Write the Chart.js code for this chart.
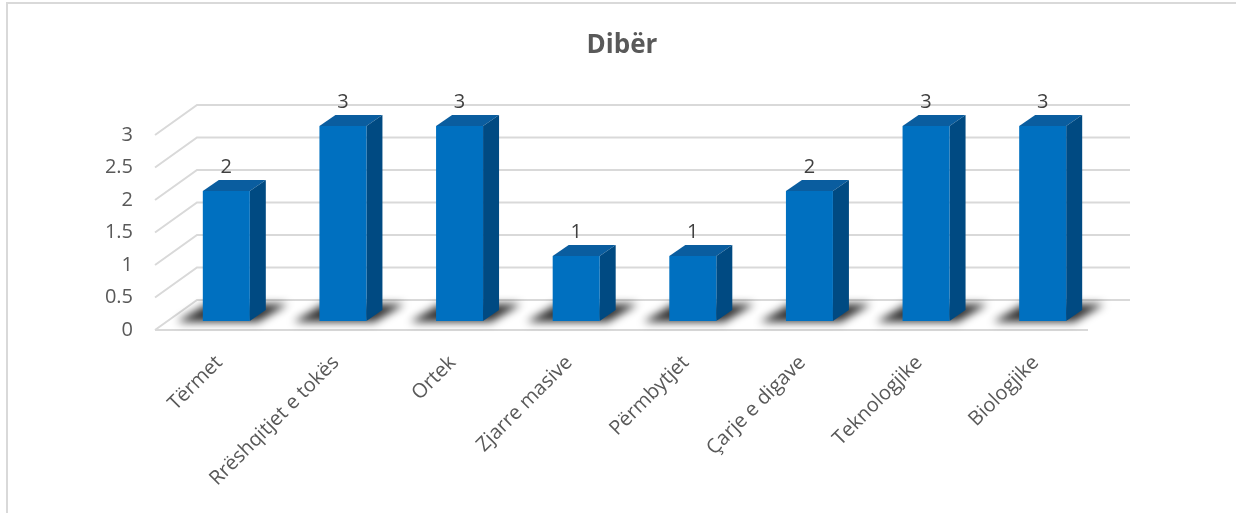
<!DOCTYPE html>
<html>
<head>
<meta charset="utf-8">
<script src="https://cdn.jsdelivr.net/npm/chart.js@4"></script>
<style>
    html, body { margin: 0; padding: 0; background: #fff; }
    #wrap { position: relative; width: 1236px; height: 513px; overflow: hidden; }
    #frame { position: absolute; left: 6px; top: 2px; width: 1300px; height: 600px; border: 2px solid #d9d9d9; box-sizing: border-box; }
    #chartBox { position: absolute; left: 0; top: 0; width: 1236px; height: 513px; }
</style>
</head>
<body>
<div id="wrap">
    <div id="frame"></div>
    <div id="chartBox"><canvas id="diberChart"></canvas></div>
</div>
<script>
const TITLE = "Dibër";
const categories = ["Tërmet", "Rrëshqitjet e tokës", "Ortek", "Zjarre masive", "Përmbytjet", "Çarje e digave", "Teknologjike", "Biologjike"];
const values = [2, 3, 3, 1, 1, 2, 3, 3];
const yTicks = [0, 0.5, 1, 1.5, 2, 2.5, 3];

// fake 3d offsets, relative to the bar front face plane
const FRONT = { dx: -13, dy: 9 };
const BACK = { dx: 29, dy: -21 };
const DEPTH = { dx: 16, dy: -11 };

const FONT = "'Open Sans', sans-serif";

const wallPlugin = {
    id: 'wall',
    beforeDatasetsDraw(chart) {
        const { ctx, chartArea: a, scales: { y } } = chart;
        ctx.save();
        ctx.strokeStyle = '#d9d9d9';
        ctx.lineWidth = 2;
        yTicks.forEach(v => {
            const py = y.getPixelForValue(v);
            ctx.beginPath();
            ctx.moveTo(a.left + FRONT.dx, py + FRONT.dy);
            ctx.lineTo(a.left + BACK.dx, py + BACK.dy);
            ctx.lineTo(a.right + BACK.dx, py + BACK.dy);
            ctx.stroke();
        });
        const p0 = y.getPixelForValue(0);
        ctx.beginPath();
        ctx.moveTo(a.left + FRONT.dx, p0 + FRONT.dy);
        ctx.lineTo(a.right + FRONT.dx, p0 + FRONT.dy);
        ctx.stroke();

        // soft shadows on the floor
        const meta = chart.getDatasetMeta(0);
        ctx.filter = 'blur(4px)';
        ctx.fillStyle = 'rgba(0,0,0,0.8)';
        meta.data.forEach(bar => {
            const { x, base, width } = bar.getProps(['x', 'base', 'width'], true);
            const l = x - width / 2 - 26, r = x + width / 2 + 8;
            ctx.beginPath();
            ctx.moveTo(l, base + 1);
            ctx.lineTo(r, base + 1);
            ctx.lineTo(r + 30, base - 17);
            ctx.lineTo(l + 30, base - 17);
            ctx.closePath();
            ctx.fill();
        });
        ctx.restore();
    },
    afterDatasetsDraw(chart) {
        const { ctx } = chart;
        const meta = chart.getDatasetMeta(0);
        ctx.save();
        meta.data.forEach((bar, i) => {
            const { x, y, base, width } = bar.getProps(['x', 'y', 'base', 'width'], true);
            const l = x - width / 2, r = x + width / 2;
            ctx.fillStyle = '#0a5d9f';
            ctx.beginPath();
            ctx.moveTo(l, y);
            ctx.lineTo(l + DEPTH.dx, y + DEPTH.dy);
            ctx.lineTo(r + DEPTH.dx, y + DEPTH.dy);
            ctx.lineTo(r, y);
            ctx.closePath();
            ctx.fill();
            ctx.fillStyle = '#004a82';
            ctx.beginPath();
            ctx.moveTo(r, y);
            ctx.lineTo(r + DEPTH.dx, y + DEPTH.dy);
            ctx.lineTo(r + DEPTH.dx, base + DEPTH.dy);
            ctx.lineTo(r, base);
            ctx.closePath();
            ctx.fill();
            ctx.fillStyle = '#0070c0';
            ctx.fillRect(l, y, width, base - y);

            ctx.fillStyle = '#404040';
            ctx.font = '20px ' + FONT;
            ctx.textAlign = 'center';
            ctx.textBaseline = 'middle';
            ctx.fillText(String(values[i]), x, y - 24);
        });

        ctx.fillStyle = '#595959';
        ctx.font = 'bold 26px ' + FONT;
        ctx.textAlign = 'center';
        ctx.textBaseline = 'middle';
        ctx.fillText(TITLE, 622, 46);
        ctx.restore();
    }
};

new Chart(document.getElementById('diberChart'), {
    type: 'bar',
    data: {
        labels: categories,
        datasets: [{
            data: values,
            backgroundColor: 'rgba(0,0,0,0)',
            borderWidth: 0,
            categoryPercentage: 1,
            barPercentage: 0.403
        }]
    },
    options: {
        responsive: true,
        maintainAspectRatio: false,
        animation: false,
        layout: { padding: { top: 126, right: 135, left: 0, bottom: 0 } },
        plugins: { legend: { display: false }, tooltip: { enabled: false } },
        scales: {
            x: {
                grid: { display: false, drawTicks: false },
                border: { display: false },
                ticks: {
                    color: '#595959',
                    font: { family: FONT, size: 20 },
                    minRotation: 45,
                    maxRotation: 45,
                    padding: 30,
                    labelOffset: -7
                },
                afterFit: s => { s.height = 192; }
            },
            y: {
                min: 0,
                max: 3,
                grid: { display: false, drawTicks: false },
                border: { display: false },
                ticks: {
                    stepSize: 0.5,
                    color: '#595959',
                    font: { family: FONT, size: 20 },
                    padding: 35,
                    labelOffset: 9,
                    callback: v => String(v)
                },
                afterFit: s => { s.width = 168; }
            }
        }
    },
    plugins: [wallPlugin]
});
</script>
</body>
</html>
